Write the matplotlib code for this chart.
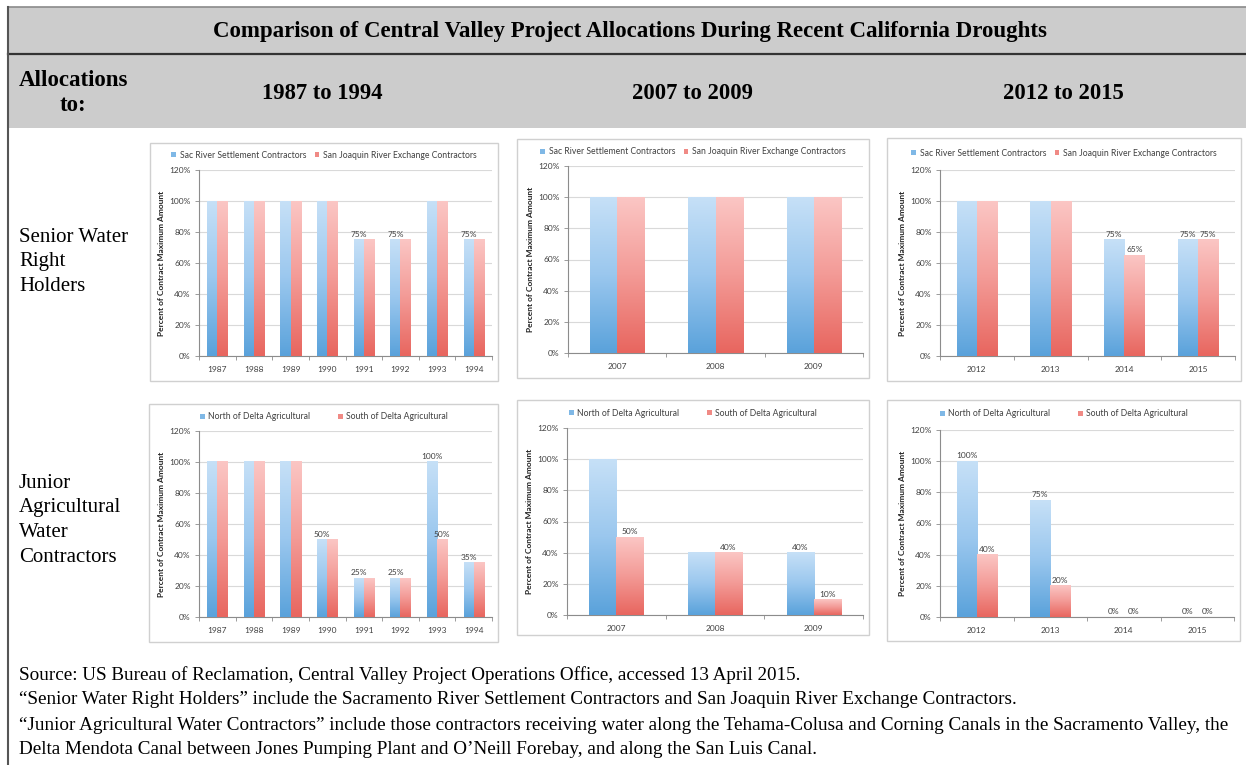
import numpy as np
import matplotlib.pyplot as plt
from matplotlib.colors import LinearSegmentedColormap
from matplotlib.patches import Rectangle, Patch

W, H = 1246, 765

title = "Comparison of Central Valley Project Allocations During Recent California Droughts"
periods = ["1987 to 1994", "2007 to 2009", "2012 to 2015"]
row_names = [["Senior Water", "Right", "Holders"],
             ["Junior", "Agricultural", "Water", "Contractors"]]

years_a = ["1987", "1988", "1989", "1990", "1991", "1992", "1993", "1994"]
years_b = ["2007", "2008", "2009"]
years_c = ["2012", "2013", "2014", "2015"]

senior_names = ["Sac River Settlement Contractors", "San Joaquin River Exchange Contractors"]
junior_names = ["North of Delta Agricultural", "South of Delta Agricultural"]

# percent of contract maximum amount
sac_a = [100, 100, 100, 100, 75, 75, 100, 75]
sjr_a = [100, 100, 100, 100, 75, 75, 100, 75]
sac_b = [100, 100, 100]
sjr_b = [100, 100, 100]
sac_c = [100, 100, 75, 75]
sjr_c = [100, 100, 65, 75]

north_a = [100, 100, 100, 50, 25, 25, 100, 35]
south_a = [100, 100, 100, 50, 25, 25, 50, 35]
north_b = [100, 40, 40]
south_b = [50, 40, 10]
north_c = [100, 75, 0, 0]
south_c = [40, 20, 0, 0]

# which bars carry a data label
sac_a_lbl = [0, 0, 0, 0, 1, 1, 0, 1]
sjr_a_lbl = [0, 0, 0, 0, 0, 0, 0, 0]
sac_b_lbl = [0, 0, 0]
sjr_b_lbl = [0, 0, 0]
sac_c_lbl = [0, 0, 1, 1]
sjr_c_lbl = [0, 0, 1, 1]
north_a_lbl = [0, 0, 0, 1, 1, 1, 1, 1]
south_a_lbl = [0, 0, 0, 0, 0, 0, 1, 0]
north_b_lbl = [0, 0, 1]
south_b_lbl = [1, 1, 1]
north_c_lbl = [1, 1, 1, 1]
south_c_lbl = [1, 1, 1, 1]

footer = [
    "Source: US Bureau of Reclamation, Central Valley Project Operations Office, accessed 13 April 2015.",
    "\u201cSenior Water Right Holders\u201d include the Sacramento River Settlement Contractors and San Joaquin River Exchange Contractors.",
    "\u201cJunior Agricultural Water Contractors\u201d include those contractors receiving water along the Tehama-Colusa and Corning Canals in the Sacramento Valley, the",
    "Delta Mendota Canal between Jones Pumping Plant and O\u2019Neill Forebay, and along the San Luis Canal.",
]

blue_cmap = LinearSegmentedColormap.from_list("b", ["#5aa2db", "#9ac7ee", "#c6e0f7"])
red_cmap = LinearSegmentedColormap.from_list("r", ["#e8665f", "#f39a96", "#fbc6c4"])
TXT = "#404040"
CHART_FONT = "Lato"
SERIF = "Liberation Serif"
FS = 6.0


def px_axes(fig, x0, y0, x1, y1):
    return fig.add_axes([x0 / W, 1 - y1 / H, (x1 - x0) / W, (y1 - y0) / H])


def gradient_bars(ax, xs, vals, width, cmap):
    grad = np.linspace(0, 1, 128).reshape(-1, 1)
    for x, v in zip(xs, vals):
        if v <= 0:
            continue
        ax.imshow(grad, extent=[x - width / 2, x + width / 2, 0, v], origin="lower",
                  aspect="auto", cmap=cmap, zorder=3, interpolation="bilinear")


def draw_panel(ax, years, s1, s2, l1, l2, names, legend_xy, colspace):
    n = len(years)
    x = np.arange(n)
    bw = 0.275
    gradient_bars(ax, x - bw / 2, s1, bw, blue_cmap)
    gradient_bars(ax, x + bw / 2, s2, bw, red_cmap)
    for xs, vals, flags in [(x - bw / 2, s1, l1), (x + bw / 2, s2, l2)]:
        for xi, v, f in zip(xs, vals, flags):
            if f:
                ax.text(xi, v + 1.2, f"{v}%", ha="center", va="bottom", fontsize=FS,
                        color=TXT, family=CHART_FONT, zorder=4)

    ax.set_xlim(-0.5, n - 0.5)
    ax.set_ylim(0, 120)
    ax.set_yticks(range(0, 121, 20))
    ax.set_yticklabels([f"{t}%" for t in range(0, 121, 20)])
    ax.set_xticks(x)
    ax.set_xticklabels(years)
    ax.set_xticks(np.arange(n + 1) - 0.5, minor=True)
    ax.grid(axis="y", color="#d9d9d9", lw=0.8, zorder=0)
    ax.set_axisbelow(True)
    for s in ["top", "right"]:
        ax.spines[s].set_visible(False)
    for s in ["left", "bottom"]:
        ax.spines[s].set_color("#8c8c8c")
        ax.spines[s].set_linewidth(0.8)
    ax.tick_params(axis="y", length=3, width=0.6, color="#8c8c8c", pad=3,
                   labelsize=FS, labelcolor=TXT)
    ax.tick_params(axis="x", which="major", length=0, pad=7, labelsize=FS, labelcolor=TXT)
    ax.tick_params(axis="x", which="minor", length=3, width=0.6, color="#8c8c8c")
    for lab in ax.get_xticklabels() + ax.get_yticklabels():
        lab.set_family(CHART_FONT)
    ax.set_ylabel("Percent of Contract Maximum Amount", fontsize=FS, fontweight="bold",
                  family=CHART_FONT, color="#222222", labelpad=3)

    handles = [Patch(facecolor="#7fb8e6", edgecolor="none"),
               Patch(facecolor="#f08a85", edgecolor="none")]
    ax.legend(handles, names, loc="center", ncol=2, frameon=False,
              bbox_to_anchor=(legend_xy[0] / W, 1 - legend_xy[1] / H),
              bbox_transform=ax.figure.transFigure,
              prop={"family": CHART_FONT, "size": FS + 0.2}, labelcolor=TXT,
              handlelength=0.55, handleheight=0.55, handletextpad=0.4,
              columnspacing=colspace, borderaxespad=0)


fig = plt.figure(figsize=(W / 100, H / 100), dpi=100)
bg = fig.add_axes([0, 0, 1, 1])
bg.set_xlim(0, W)
bg.set_ylim(H, 0)
bg.axis("off")

# header band
bg.add_patch(Rectangle((8, 7), W - 8, 121, facecolor="#cccccc", edgecolor="none"))
bg.plot([8, W], [7, 7], color="#8a8a8a", lw=1.2)
bg.plot([8, W], [54, 54], color="#333333", lw=1.6)
bg.plot([8, 8], [7, H], color="#555555", lw=1.5)

bg.text(630, 31, title, ha="center", va="center", fontsize=16.5, fontweight="bold", family=SERIF)
bg.text(73, 80, "Allocations", ha="center", va="center", fontsize=16.5,
        fontweight="bold", family=SERIF)
bg.text(73, 105, "to:", ha="center", va="center", fontsize=16.5,
        fontweight="bold", family=SERIF)
for cx, p in zip([322, 692, 1063], periods):
    bg.text(cx, 93, p, ha="center", va="center", fontsize=16.3, fontweight="bold", family=SERIF)

for y0, lines in zip([237, 483], row_names):
    for i, ln in enumerate(lines):
        bg.text(19, y0 + i * 24.8, ln, ha="left", va="center", fontsize=15, family=SERIF)

for i, ln in enumerate(footer):
    bg.text(19, 675 + i * 25, ln, ha="left", va="center", fontsize=13.75, family=SERIF)

# chart frames
frames = [(150, 143, 498, 381), (517, 139, 869, 378), (887, 138, 1241, 381),
          (149, 404, 498, 642), (517, 400, 869, 635), (887, 400, 1240, 641)]
for x0, y0, x1, y1 in frames:
    bg.add_patch(Rectangle((x0, y0), x1 - x0, y1 - y0, facecolor="white",
                           edgecolor="#d0d0d0", lw=1))

ax1 = px_axes(fig, 199, 170, 492, 356)
draw_panel(ax1, years_a, sac_a, sjr_a, sac_a_lbl, sjr_a_lbl, senior_names, (324, 155), 1.0)
ax2 = px_axes(fig, 568, 166, 863, 353)
draw_panel(ax2, years_b, sac_b, sjr_b, sac_b_lbl, sjr_b_lbl, senior_names, (693, 152), 1.0)
ax3 = px_axes(fig, 940, 170, 1235, 356)
draw_panel(ax3, years_c, sac_c, sjr_c, sac_c_lbl, sjr_c_lbl, senior_names, (1064, 153), 1.0)
ax4 = px_axes(fig, 199, 431, 492, 617)
draw_panel(ax4, years_a, north_a, south_a, north_a_lbl, south_a_lbl, junior_names, (324, 417), 3.2)
ax5 = px_axes(fig, 567, 428, 863, 615)
draw_panel(ax5, years_b, north_b, south_b, north_b_lbl, south_b_lbl, junior_names, (693, 413), 3.2)
ax6 = px_axes(fig, 940, 430, 1234, 617)
draw_panel(ax6, years_c, north_c, south_c, north_c_lbl, south_c_lbl, junior_names, (1064, 414), 3.2)

fig.savefig("out.png", dpi=100)
